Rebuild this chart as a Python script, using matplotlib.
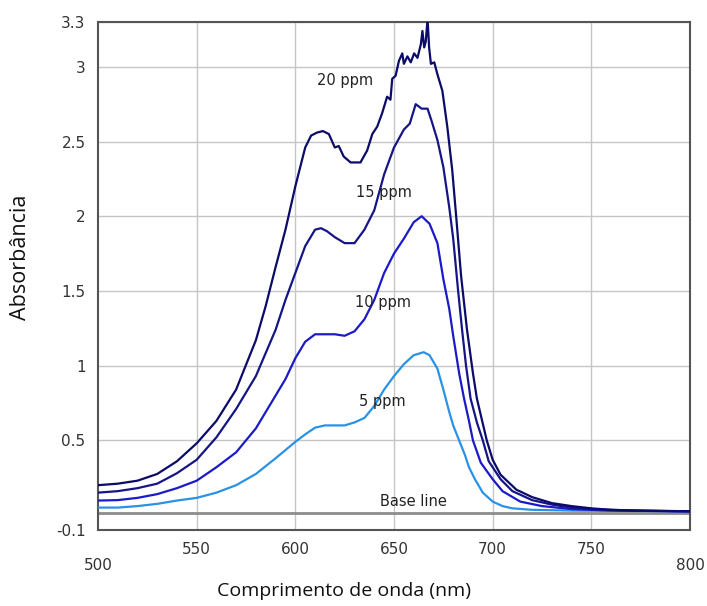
import matplotlib
matplotlib.use('Agg')
import matplotlib.pyplot as plt

# UV-Vis spectra
wl_20 = [500, 510, 520, 530, 540, 550, 560, 570, 580, 585, 590, 595, 600, 605,
         608, 611, 614, 617, 620, 622, 624.5, 628, 633, 636.4, 639, 641.5, 644,
         646.5, 648.2, 649.1, 650.8, 652.5, 654.2, 655, 656.8, 658.5, 660.2,
         661.9, 663.6, 664.4, 665.3, 666.1, 667, 667.8, 668.7, 670.4, 672,
         674.5, 677, 679.5, 681.5, 684, 687, 690, 692, 697, 700, 704, 708, 712,
         720, 730, 740, 750, 760, 775, 800]
abs_20 = [0.20, 0.21, 0.23, 0.275, 0.36, 0.48, 0.63, 0.84, 1.17, 1.40, 1.66, 1.91,
          2.20, 2.46, 2.54, 2.56, 2.57, 2.55, 2.46, 2.47, 2.40, 2.36, 2.36, 2.44,
          2.55, 2.60, 2.69, 2.80, 2.78, 2.92, 2.94, 3.04, 3.09, 3.02, 3.07, 3.03,
          3.09, 3.06, 3.15, 3.24, 3.13, 3.17, 3.32, 3.13, 3.02, 3.03, 2.95, 2.84,
          2.60, 2.31, 2.00, 1.60, 1.24, 0.95, 0.78, 0.50, 0.37, 0.27, 0.22, 0.17,
          0.12, 0.08, 0.06, 0.045, 0.035, 0.03, 0.025]

wl_15 = [500, 510, 520, 530, 540, 550, 560, 570, 580, 590, 595, 600, 605, 610,
         613, 616, 620, 625, 630, 635, 640, 645, 650, 655, 658, 661, 664, 667,
         669, 672, 675, 678, 680, 682.5, 684.5, 686.5, 688.8, 692, 695, 698, 704,
         710, 720, 730, 740, 750, 770, 800]
abs_15 = [0.15, 0.16, 0.18, 0.21, 0.28, 0.37, 0.52, 0.71, 0.93, 1.24, 1.44, 1.62,
          1.80, 1.91, 1.92, 1.90, 1.86, 1.82, 1.82, 1.91, 2.04, 2.28, 2.46, 2.58,
          2.62, 2.75, 2.72, 2.72, 2.64, 2.51, 2.33, 2.06, 1.85, 1.50, 1.24, 1.00,
          0.78, 0.62, 0.50, 0.36, 0.24, 0.16, 0.10, 0.07, 0.05, 0.04, 0.03, 0.025]

wl_10 = [500, 510, 520, 530, 540, 550, 560, 570, 580, 590, 595, 600, 605, 610,
         615, 620, 625, 630, 635, 640, 645, 650, 655, 660, 664, 668, 672, 675,
         678, 680, 683, 685.5, 688, 690, 694, 700, 705, 714, 725, 740, 760, 800]
abs_10 = [0.097, 0.10, 0.115, 0.14, 0.18, 0.23, 0.32, 0.42, 0.58, 0.80, 0.91,
          1.05, 1.16, 1.21, 1.21, 1.21, 1.20, 1.23, 1.31, 1.44, 1.62, 1.75, 1.85,
          1.96, 2.00, 1.95, 1.82, 1.58, 1.38, 1.20, 0.95, 0.78, 0.63, 0.50, 0.35,
          0.24, 0.16, 0.09, 0.06, 0.04, 0.03, 0.025]

wl_5 = [500, 510, 520, 530, 540, 550, 560, 570, 580, 590, 600, 605, 610, 615,
        620, 625, 630, 635, 640, 645, 650, 655, 660, 665, 668, 672, 675, 678,
        680, 683, 686, 688, 691, 695, 700, 705, 710, 720, 740, 800]
abs_5 = [0.05, 0.05, 0.06, 0.075, 0.097, 0.115, 0.15, 0.20, 0.275, 0.38, 0.49,
         0.54, 0.585, 0.60, 0.60, 0.60, 0.62, 0.65, 0.73, 0.84, 0.93, 1.01, 1.07,
         1.09, 1.07, 0.98, 0.84, 0.69, 0.60, 0.50, 0.40, 0.32, 0.24, 0.15, 0.09,
         0.06, 0.045, 0.035, 0.03, 0.025]

base_wl = [500, 800]
base_abs = [0.015, 0.015]

series_names = ['20 ppm', '15 ppm', '10 ppm', '5 ppm', 'Base line']
x_ticks = [550, 600, 650, 700, 750]
x_edge_ticks = [500, 800]
y_ticks = [-0.1, 0.5, 1, 1.5, 2, 2.5, 3, 3.3]
y_tick_labels = ['-0.1', '0.5', '1', '1.5', '2', '2.5', '3', '3.3']

# styling / label placement
colors = ['#0b0b68', '#151585', '#1a1ac8', '#2a92e6', '#8c8c8c']
label_pos = [(625, 2.91), (645, 2.16), (644.5, 1.42), (644, 0.76), (660, 0.09)]

fig = plt.figure(figsize=(7.07, 6.06), dpi=100)
ax = fig.add_axes([98 / 707, 76 / 606, 592 / 707, 508 / 606])

ax.grid(True, color='#c6c6c6', linewidth=1)
ax.set_axisbelow(True)

ax.plot(base_wl, base_abs, color=colors[4], linewidth=2, zorder=2)
for wl, ab, c in [(wl_5, abs_5, colors[3]), (wl_10, abs_10, colors[2]),
                  (wl_15, abs_15, colors[1]), (wl_20, abs_20, colors[0])]:
    ax.plot(wl, ab, color=c, linewidth=1.6, zorder=3)

for name, (lx, ly) in zip(series_names, label_pos):
    ax.text(lx, ly, name, ha='center', va='center', fontsize=10.5,
            color='#222222', zorder=4)

ax.set_xlim(500, 800)
ax.set_ylim(-0.1, 3.3)

ax.set_xticks(x_ticks)
ax.set_xticklabels([str(t) for t in x_ticks])
ax.set_xticks(x_edge_ticks, minor=True)
ax.set_xticklabels([str(t) for t in x_edge_ticks], minor=True)
ax.set_yticks(y_ticks)
ax.set_yticklabels(y_tick_labels)

ax.tick_params(axis='both', which='both', length=0, labelsize=11,
               labelcolor='#333333')
ax.tick_params(axis='x', which='major', pad=9)
ax.tick_params(axis='x', which='minor', pad=20)
ax.tick_params(axis='y', pad=9)
# no gridlines for the edge ticks
ax.xaxis.grid(False, which='minor')

for s in ax.spines.values():
    s.set_color('#555555')
    s.set_linewidth(1.5)

fig.text(344 / 707, 1 - 591 / 606, 'Comprimento de onda (nm)', ha='center',
         va='center', fontsize=14, family='Open Sans', color='#111111')
fig.text(21 / 707, 1 - 257 / 606, 'Absorbância', ha='center', va='center',
         rotation=90, fontsize=15.5, family='Open Sans', color='#111111')

fig.savefig('out.png', dpi=100)
